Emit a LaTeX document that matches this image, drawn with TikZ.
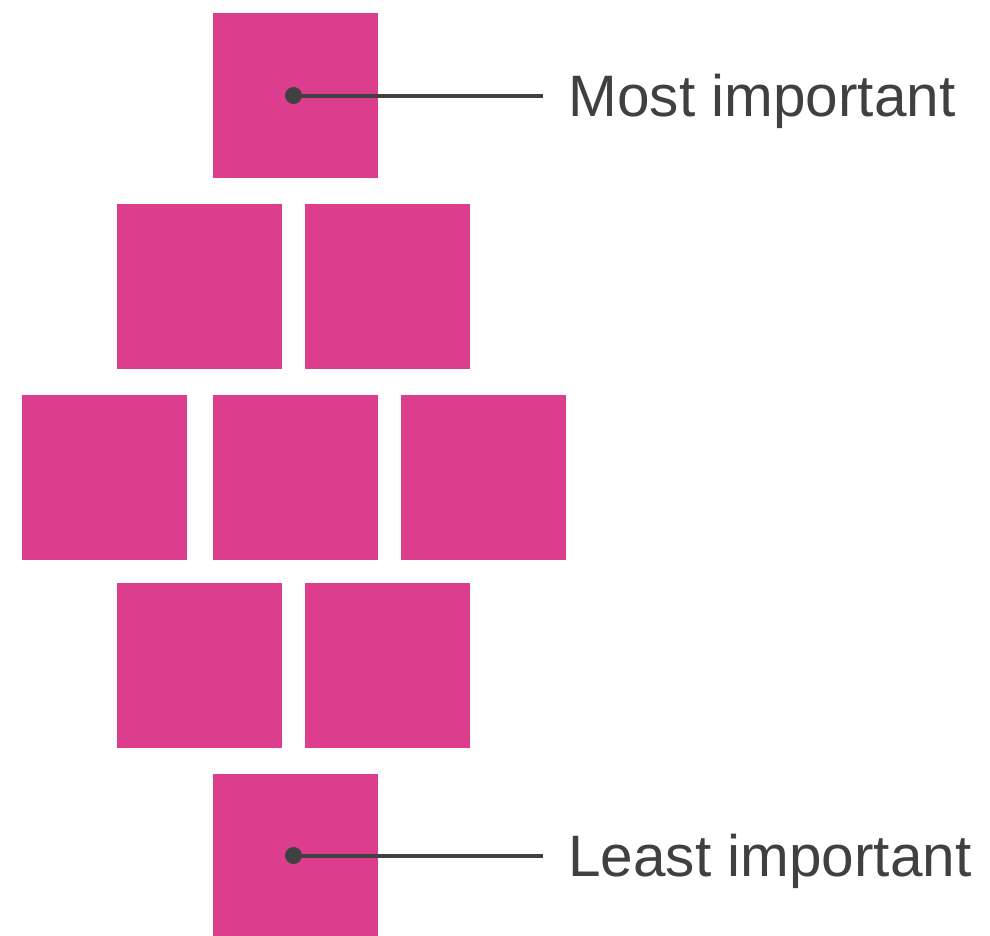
\documentclass[tikz,border=0pt]{standalone}
\usepackage{fontspec}
\setmainfont{Liberation Sans}
\definecolor{tilepink}{HTML}{DC3D8C}
\definecolor{inkgrey}{HTML}{404040}
\tikzset{
  tile/.style={fill=tilepink, minimum size=165pt, inner sep=0pt, outer sep=0pt},
  tag/.style={anchor=base west, inner sep=0pt, text=inkgrey,
    font=\fontsize{58.5}{70}\selectfont},
  leader/.style={draw=inkgrey, line width=4pt}
}
\begin{document}
\begin{tikzpicture}[x=1pt,y=-1pt]
\useasboundingbox (0,0) rectangle (990,935);

% rows of tiles
\node[tile] (t1) at (295,95.5) {};

\node[tile] (t21) at (199,286) {};
\node[tile] (t22) at (387.5,286) {};

\node[tile] (t31) at (104.8,477) {};
\node[tile] (t32) at (295,477) {};
\node[tile] (t33) at (483.8,477) {};

\node[tile] (t41) at (199,665.5) {};
\node[tile] (t42) at (387.5,665.5) {};

\node[tile] (t5) at (295,856.5) {};

% labels
\coordinate (mostdot) at (293.5,95.5);
\coordinate (mostend) at (543,95.5);
\node[tag] (most) at (568.5,116) {Most important};

\coordinate (leastdot) at (293.5,855.5);
\coordinate (leastend) at (543,855.5);
\node[tag] (least) at (568,876) {Least important};

\draw[leader] (mostdot) -- (mostend);
\draw[leader] (leastdot) -- (leastend);
\fill[inkgrey] (mostdot) circle (8.5pt);
\fill[inkgrey] (leastdot) circle (8.5pt);

\end{tikzpicture}
\end{document}
